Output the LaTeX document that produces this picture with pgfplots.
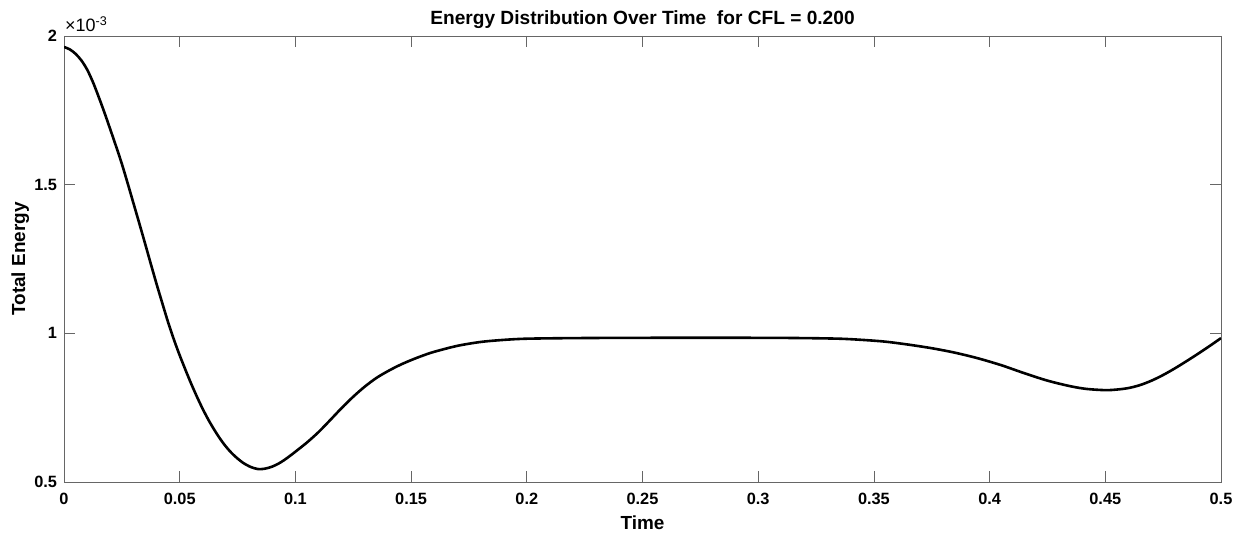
\documentclass[border=0pt]{standalone}
\usepackage{fontspec}
\setmainfont{Liberation Sans}
\usepackage{pgfplots}
\pgfplotsset{compat=1.18}
\begin{document}
\begin{tikzpicture}
\begin{axis}[
  scale only axis, width=1157bp, height=446bp,
  xmin=0, xmax=0.5, ymin=0.5, ymax=2,
  xtick={0,0.05,0.1,0.15,0.2,0.25,0.3,0.35,0.4,0.45,0.5},
  xticklabels={0,0.05,0.1,0.15,0.2,0.25,0.3,0.35,0.4,0.45,0.5},
  ytick={0.5,1,1.5,2},
  yticklabels={0.5,1,1.5,2},
  tick align=inside, major tick length=11bp,
  axis line style={draw=black!60, line width=0.8bp},
  every tick/.style={draw=black!60, line width=0.8bp},
  ticklabel style={font=\fontsize{16.4}{19}\selectfont\bfseries},
  xticklabel style={yshift=-7.5bp},
  yticklabel style={xshift=-3.5bp},
  /pgf/number format/assume math mode=true,
  title={Energy Distribution Over Time\ \ for CFL = 0.200},
  title style={font=\fontsize{19.2}{23}\selectfont\bfseries, at={(axis description cs:0.5,1)}, anchor=base, yshift=6bp},
  xlabel={Time},
  xlabel style={font=\fontsize{19}{23}\selectfont\bfseries, at={(axis description cs:0.5,0)}, anchor=base, yshift=-47bp},
]
\addplot[black, line width=2.6bp, smooth] coordinates {
(0,1.963) (0.0025,1.955) (0.005,1.940) (0.0075,1.918) (0.010,1.887) (0.0125,1.845)
(0.015,1.795) (0.0175,1.742) (0.020,1.686) (0.0225,1.629) (0.025,1.570) (0.0275,1.505)
(0.030,1.438) (0.0325,1.371) (0.035,1.303) (0.0375,1.234) (0.040,1.166) (0.0425,1.101)
(0.045,1.037) (0.0475,0.979) (0.050,0.926) (0.0525,0.877) (0.055,0.830) (0.0575,0.786)
(0.060,0.745) (0.0625,0.708) (0.065,0.675) (0.0675,0.645) (0.070,0.619) (0.0725,0.597)
(0.075,0.579) (0.0775,0.564) (0.080,0.553) (0.082,0.547) (0.084,0.5435) (0.086,0.544)
(0.088,0.547) (0.090,0.552) (0.0925,0.561) (0.095,0.573) (0.0975,0.587) (0.100,0.602)
(0.105,0.633) (0.110,0.668) (0.115,0.708) (0.120,0.749) (0.125,0.787) (0.130,0.821)
(0.135,0.850) (0.140,0.873) (0.145,0.893) (0.150,0.910) (0.155,0.925) (0.160,0.938)
(0.170,0.958) (0.180,0.971) (0.190,0.978) (0.200,0.982) (0.220,0.984) (0.250,0.985)
(0.300,0.985) (0.320,0.984) (0.335,0.982) (0.345,0.978) (0.355,0.972) (0.365,0.962)
(0.375,0.950) (0.385,0.935) (0.395,0.916) (0.405,0.893) (0.415,0.866) (0.425,0.841)
(0.435,0.822) (0.442,0.813) (0.450,0.809) (0.455,0.811) (0.460,0.816) (0.465,0.826)
(0.470,0.841) (0.475,0.860) (0.480,0.882) (0.485,0.906) (0.490,0.931) (0.495,0.957)
(0.500,0.984)
};
\end{axis}
\node[rotate=90, anchor=base, inner sep=0pt, font=\fontsize{19}{23}\selectfont\bfseries] at ([xshift=-39bp]current axis.west) {Total Energy};
\node[anchor=base west, font=\fontsize{18}{21}\selectfont, inner sep=0pt] at ([shift={(1bp,4bp)}]current axis.north west) {×10\textsuperscript{-3}};
\pgfresetboundingbox
\path[use as bounding box] ([shift={(-64bp,-54bp)}]current axis.south west) rectangle ([shift={(23bp,36bp)}]current axis.north east);
\end{tikzpicture}
\end{document}
